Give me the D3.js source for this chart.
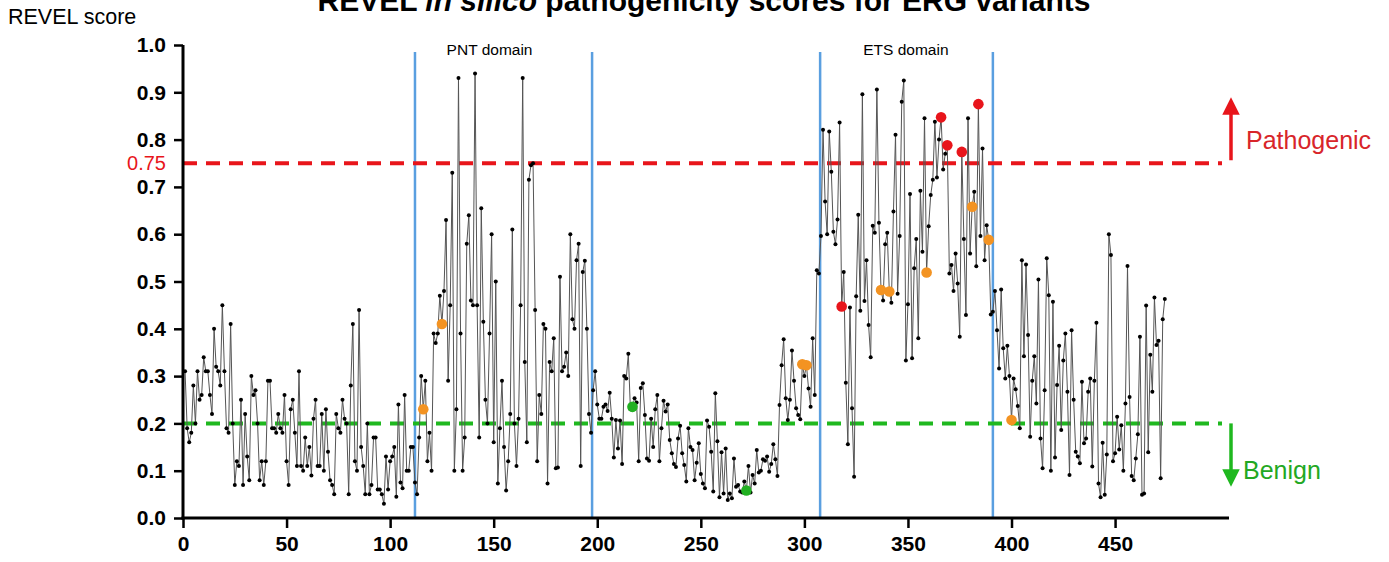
<!DOCTYPE html>
<html>
<head>
<meta charset="utf-8">
<script src="https://cdnjs.cloudflare.com/ajax/libs/d3/7.8.5/d3.min.js"></script>
<style>
  body { margin: 0; background: #fff; }
  svg { display: block; font-family: "Liberation Sans", Arial, sans-serif; }
</style>
</head>
<body>
<svg id="chart" width="1389" height="562"></svg>
<script>
// REVEL score per residue position (position = index + 1)
var scores = [
  .31,.19,.16,.18,.28,.20,.31,.25,.26,.34,
  .31,.31,.26,.22,.40,.32,.31,.28,.45,.31,
  .19,.18,.41,.20,.07,.12,.11,.25,.07,.22,
  .13,.08,.30,.26,.27,.20,.08,.12,.07,.12,
  .29,.29,.19,.19,.18,.22,.19,.18,.26,.12,
  .07,.23,.25,.18,.11,.31,.11,.10,.17,.11,
  .15,.09,.21,.25,.11,.11,.22,.10,.23,.14,
  .08,.07,.05,.22,.19,.18,.25,.21,.20,.05,
  .28,.41,.12,.10,.44,.15,.11,.05,.20,.05,
  .07,.17,.17,.06,.06,.05,.03,.13,.06,.12,
  .13,.15,.045,.24,.075,.063,.26,.10,.10,.15,
  .15,.075,.05,.17,.30,.23,.29,.12,.18,.10,
  .39,.37,.39,.47,.41,.48,.63,.29,.45,.73,
  .10,.23,.93,.39,.10,.17,.58,.64,.46,.45,
  .94,.45,.17,.655,.415,.25,.20,.39,.60,.16,
  .50,.073,.19,.29,.15,.058,.12,.22,.61,.20,
  .11,.21,.45,.93,.33,.16,.715,.746,.75,.44,
  .12,.26,.22,.41,.40,.073,.33,.31,.38,.105,
  .107,.51,.31,.32,.35,.30,.60,.42,.40,.545,
  .58,.11,.52,.544,.40,.22,.18,.27,.31,.24,
  .21,.21,.235,.24,.226,.265,.21,.128,.207,.147,
  .206,.114,.30,.295,.347,.23,.235,.253,.244,.12,
  .275,.285,.218,.126,.121,.21,.15,.23,.26,.12,
  .19,.248,.225,.24,.165,.137,.114,.108,.168,.195,
  .137,.112,.077,.19,.15,.144,.08,.117,.158,.093,
  .073,.063,.206,.193,.14,.056,.264,.162,.044,.139,
  .052,.147,.038,.052,.042,.126,.066,.07,.056,.054,
  .077,.058,.11,.054,.091,.073,.144,.096,.10,.124,
  .121,.13,.098,.114,.156,.124,.089,.239,.323,.378,
  .253,.207,.25,.354,.29,.232,.218,.209,.325,.30,
  .323,.274,.235,.38,.26,.524,.517,.596,.821,.669,
  .60,.817,.732,.605,.579,.631,.836,.447,.52,.286,
  .156,.445,.232,.087,.469,.641,.438,.896,.459,.545,
  .408,.34,.618,.603,.906,.624,.482,.46,.579,.603,
  .479,.455,.648,.81,.474,.596,.88,.925,.333,.452,
  .685,.338,.528,.59,.38,.692,.563,.845,.519,.617,
  .683,.715,.838,.72,.80,.847,.737,.77,.788,.517,
  .535,.48,.559,.496,.383,.774,.59,.429,.845,.559,
  .658,.69,.532,.875,.596,.781,.545,.619,.588,.43,
  .436,.48,.397,.316,.483,.359,.295,.364,.30,.207,
  .295,.272,.237,.19,.545,.342,.536,.387,.172,.29,
  .342,.242,.504,.168,.105,.27,.549,.471,.10,.457,
  .128,.281,.364,.186,.333,.39,.267,.091,.397,.25,
  .14,.13,.116,.288,.158,.168,.267,.295,.109,.29,
  .413,.073,.044,.159,.049,.134,.60,.556,.12,.137,
  .214,.145,.196,.10,.242,.533,.256,.089,.08,.126,
  .177,.383,.049,.052,.449,.139,.345,.267,.466,.366,
  .375,.084,.42,.463
];

// highlighted variant positions
var orangePos = [116, 125, 299, 301, 337, 341, 359, 381, 389, 400];
var redPos = [318, 366, 369, 376, 384];
var greenPos = [217, 272];

var domainBounds = [112, 197.5, 307.6, 391];
var domainNames = ["PNT domain", "ETS domain"];
var domainLabelX = [148, 349];

var xTicks = [0, 50, 100, 150, 200, 250, 300, 350, 400, 450];
var yTicks = [0, 0.1, 0.2, 0.3, 0.4, 0.5, 0.6, 0.7, 0.8, 0.9, 1.0];
var pathoCut = 0.75, benignCut = 0.2;

var svg = d3.select("#chart");
var x = d3.scaleLinear().domain([0, 505]).range([183, 1229]);
var y = d3.scaleLinear().domain([0, 1]).range([518, 45]);

var pts = scores.map(function (v, i) { return { pos: i + 1, v: v }; });
var byPos = function (p) { return pts[p - 1]; };

// title (partly above the frame in the reference)
var title = svg.append("text")
    .attr("x", 704).attr("y", 11)
    .attr("text-anchor", "middle")
    .style("font-size", "30px").style("font-weight", "bold");
title.append("tspan").text("REVEL ");
title.append("tspan").style("font-style", "italic").text("in silico");
title.append("tspan").text(" pathogenicity scores for ERG variants");

svg.append("text").attr("x", 8).attr("y", 24)
    .style("font-size", "21.5px").text("REVEL score");

// domain boundaries
svg.selectAll(".dom").data(domainBounds).enter().append("line")
    .attr("x1", function (d) { return x(d); }).attr("x2", function (d) { return x(d); })
    .attr("y1", 52).attr("y2", 518)
    .attr("stroke", "#5a9fe0").attr("stroke-width", 2.5);

svg.selectAll(".domlab").data(domainNames).enter().append("text")
    .attr("x", function (d, i) { return x(domainLabelX[i]); })
    .attr("y", 55).attr("text-anchor", "middle")
    .style("font-size", "15.5px").text(function (d) { return d; });

// threshold lines
svg.append("line").attr("x1", x(0)).attr("x2", 1222)
    .attr("y1", y(pathoCut)).attr("y2", y(pathoCut))
    .attr("stroke", "#e8151b").attr("stroke-width", 4).attr("stroke-dasharray", "14,9");
svg.append("line").attr("x1", x(0)).attr("x2", 1222)
    .attr("y1", y(benignCut)).attr("y2", y(benignCut))
    .attr("stroke", "#1fb81f").attr("stroke-width", 4).attr("stroke-dasharray", "14,9");

svg.append("text").attr("x", 166).attr("y", y(pathoCut)).attr("dy", "0.36em")
    .attr("text-anchor", "end").attr("fill", "#e8151b")
    .style("font-size", "20px").text("0.75");

// arrows
var defs = svg.append("defs");
function marker(id, col) {
  defs.append("marker").attr("id", id).attr("viewBox", "0 0 10 10")
      .attr("refX", 5).attr("refY", 5).attr("markerWidth", 5).attr("markerHeight", 6)
      .attr("markerUnits", "strokeWidth").attr("orient", "auto")
      .append("path").attr("d", "M0,0L10,5L0,10Z").attr("fill", col);
}
marker("arrRed", "#e8151b");
marker("arrGreen", "#1fb81f");
svg.append("line").attr("x1", 1231).attr("x2", 1231).attr("y1", y(pathoCut) - 3).attr("y2", 106)
    .attr("stroke", "#e8151b").attr("stroke-width", 3.5).attr("marker-end", "url(#arrRed)");
svg.append("line").attr("x1", 1231).attr("x2", 1231).attr("y1", y(benignCut)).attr("y2", 478)
    .attr("stroke", "#1fb81f").attr("stroke-width", 3.5).attr("marker-end", "url(#arrGreen)");
svg.append("text").attr("x", 1246).attr("y", 140).attr("dy", "0.36em")
    .attr("fill", "#d8252a").style("font-size", "25px").text("Pathogenic");
svg.append("text").attr("x", 1243).attr("y", 470).attr("dy", "0.36em")
    .attr("fill", "#23a823").style("font-size", "25px").text("Benign");

// series
var line = d3.line().x(function (d) { return x(d.pos); }).y(function (d) { return y(d.v); });
svg.append("path").datum(pts).attr("d", line)
    .attr("fill", "none").attr("stroke", "#555").attr("stroke-width", 1);
svg.append("g").selectAll("circle").data(pts).enter().append("circle")
    .attr("cx", function (d) { return x(d.pos); }).attr("cy", function (d) { return y(d.v); })
    .attr("r", 2).attr("fill", "#000");

function highlight(list, col) {
  svg.append("g").selectAll("circle").data(list.map(byPos)).enter().append("circle")
      .attr("cx", function (d) { return x(d.pos); }).attr("cy", function (d) { return y(d.v); })
      .attr("r", 5.3).attr("fill", col);
}
highlight(orangePos, "#f39322");
highlight(redPos, "#e8151b");
highlight(greenPos, "#22b022");

// axes
var xAxis = svg.append("g").attr("transform", "translate(0,518)")
    .call(d3.axisBottom(x).tickValues(xTicks).tickSize(10).tickSizeOuter(0).tickPadding(8));
var yAxis = svg.append("g").attr("transform", "translate(183,0)")
    .call(d3.axisLeft(y).tickValues(yTicks).tickFormat(d3.format(".1f")).tickSize(9).tickSizeOuter(0).tickPadding(8));
[xAxis, yAxis].forEach(function (g) {
  g.select(".domain").attr("stroke", "#000").attr("stroke-width", 3);
  g.selectAll(".tick line").attr("stroke", "#000").attr("stroke-width", 2.5);
  g.selectAll(".tick text").attr("fill", "#000")
      .style("font-size", "21px").style("font-weight", "bold")
      .style("font-family", "'Liberation Sans', Arial, sans-serif");
});
xAxis.select(".domain").attr("d", "M181.5,0H1229");
yAxis.select(".domain").attr("d", "M0,45V519.5");
</script>
</body>
</html>
